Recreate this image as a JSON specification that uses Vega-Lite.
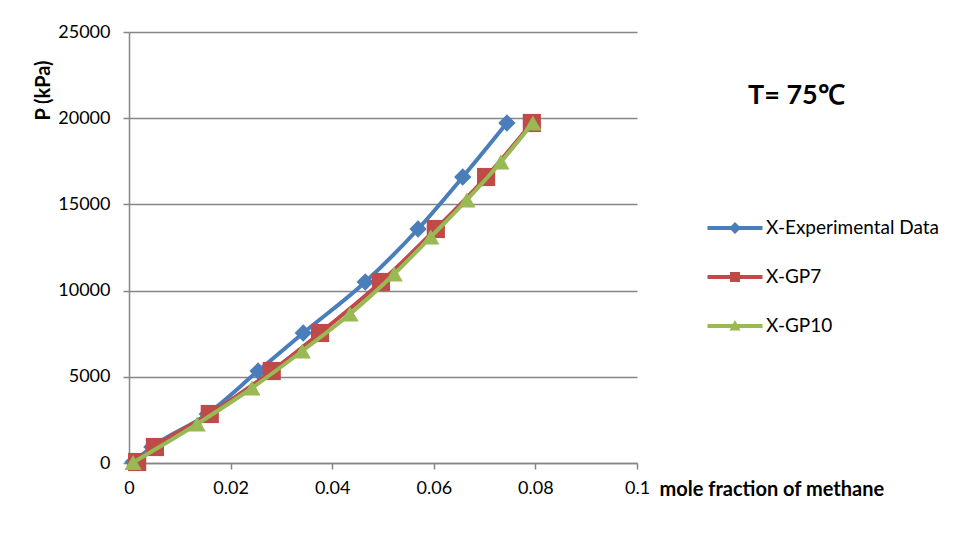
{
  "$schema": "https://vega.github.io/schema/vega-lite/v6.json",
  "width": 508,
  "height": 431,
  "autosize": "none",
  "padding": {"left": 129, "top": 32, "right": 319, "bottom": 76},
  "background": "white",
  "title": {
    "text": "T= 75℃",
    "anchor": "start",
    "frame": "group",
    "dx": 619,
    "dy": 91,
    "font": "Lato",
    "fontSize": 27,
    "fontWeight": "bold",
    "color": "#000000"
  },
  "config": {
    "view": {"stroke": null},
    "font": "Lato"
  },
  "data": {
    "values": [
      {"series": "X-Experimental Data", "x": 0.0008, "p": 58},
      {"series": "X-Experimental Data", "x": 0.0045, "p": 928},
      {"series": "X-Experimental Data", "x": 0.0154, "p": 2842},
      {"series": "X-Experimental Data", "x": 0.0254, "p": 5336},
      {"series": "X-Experimental Data", "x": 0.0343, "p": 7541},
      {"series": "X-Experimental Data", "x": 0.0465, "p": 10499},
      {"series": "X-Experimental Data", "x": 0.0569, "p": 13573},
      {"series": "X-Experimental Data", "x": 0.0657, "p": 16589},
      {"series": "X-Experimental Data", "x": 0.0744, "p": 19722},
      {"series": "X-GP7", "x": 0.0016, "p": 58},
      {"series": "X-GP7", "x": 0.0051, "p": 928},
      {"series": "X-GP7", "x": 0.0159, "p": 2842},
      {"series": "X-GP7", "x": 0.0281, "p": 5336},
      {"series": "X-GP7", "x": 0.0376, "p": 7541},
      {"series": "X-GP7", "x": 0.0496, "p": 10499},
      {"series": "X-GP7", "x": 0.0604, "p": 13573},
      {"series": "X-GP7", "x": 0.0703, "p": 16589},
      {"series": "X-GP7", "x": 0.0793, "p": 19722},
      {"series": "X-GP10", "x": 0.0008, "p": 30},
      {"series": "X-GP10", "x": 0.0134, "p": 2262},
      {"series": "X-GP10", "x": 0.0242, "p": 4350},
      {"series": "X-GP10", "x": 0.0341, "p": 6497},
      {"series": "X-GP10", "x": 0.0435, "p": 8643},
      {"series": "X-GP10", "x": 0.0522, "p": 10963},
      {"series": "X-GP10", "x": 0.0594, "p": 13109},
      {"series": "X-GP10", "x": 0.0665, "p": 15255},
      {"series": "X-GP10", "x": 0.0732, "p": 17459},
      {"series": "X-GP10", "x": 0.0795, "p": 19722}
    ]
  },
  "encoding": {
    "x": {
      "field": "x",
      "type": "quantitative",
      "scale": {"domain": [0, 0.1], "nice": false, "zero": false},
      "axis": {
        "values": [0, 0.02, 0.04, 0.06, 0.08, 0.1],
        "format": "~g",
        "grid": false,
        "domainColor": "#868686",
        "domainWidth": 1.5,
        "tickColor": "#868686",
        "tickWidth": 1.5,
        "tickSize": 6,
        "labelPadding": 10,
        "labelFont": "Lato",
        "labelFontSize": 18,
        "labelColor": "#000000",
        "labelFlush": false,
        "labelOverlap": false,
        "title": "mole fraction of methane",
        "titleFont": "Lato",
        "titleFontSize": 20,
        "titleFontWeight": "bold",
        "titleColor": "#000000",
        "titleAnchor": "start",
        "titleAlign": "left",
        "titleBaseline": "middle",
        "titleX": 530,
        "titleY": 26
      }
    },
    "y": {
      "field": "p",
      "type": "quantitative",
      "scale": {"domain": [0, 25000], "nice": false},
      "axis": {
        "values": [0, 5000, 10000, 15000, 20000, 25000],
        "format": "d",
        "grid": true,
        "gridColor": "#868686",
        "gridWidth": 1.5,
        "domainColor": "#868686",
        "domainWidth": 1.5,
        "tickColor": "#868686",
        "tickWidth": 1.5,
        "tickSize": 6,
        "labelPadding": 13,
        "labelFont": "Lato",
        "labelFontSize": 18,
        "labelColor": "#000000",
        "labelFlush": false,
        "labelOverlap": false,
        "title": "P (kPa)",
        "titleFont": "Lato",
        "titleFontSize": 20,
        "titleFontWeight": "bold",
        "titleColor": "#000000",
        "titleAngle": -90,
        "titleAlign": "center",
        "titleBaseline": "middle",
        "titleX": -86,
        "titleY": 58
      }
    }
  },
  "layer": [
    {
      "transform": [{"filter": "datum.series == 'X-Experimental Data'"}],
      "mark": {
        "type": "line",
        "color": "#4A7EBB",
        "strokeWidth": 4,
        "interpolate": "monotone",
        "clip": false,
        "point": {"shape": "diamond", "size": 300, "filled": true, "color": "#4A7EBB", "opacity": 1}
      }
    },
    {
      "transform": [{"filter": "datum.series == 'X-GP7'"}],
      "mark": {
        "type": "line",
        "color": "#BE4B48",
        "strokeWidth": 4,
        "interpolate": "monotone",
        "clip": false,
        "point": {"shape": "square", "size": 330, "filled": true, "color": "#BE4B48", "opacity": 1}
      }
    },
    {
      "transform": [{"filter": "datum.series == 'X-GP10'"}],
      "mark": {
        "type": "line",
        "color": "#98B954",
        "strokeWidth": 4,
        "interpolate": "monotone",
        "clip": false,
        "point": {"shape": "triangle-up", "size": 300, "filled": true, "color": "#98B954", "opacity": 1}
      }
    },
    {
      "mark": {"type": "point", "filled": true, "opacity": 0, "size": 400},
      "encoding": {
        "color": {
          "field": "series",
          "type": "nominal",
          "scale": {
            "domain": ["X-Experimental Data", "X-GP7", "X-GP10"],
            "range": ["#4A7EBB", "#BE4B48", "#98B954"]
          },
          "legend": {
            "orient": "none",
            "legendX": 596,
            "legendY": 186,
            "title": null,
            "labelFont": "Lato",
            "labelFontSize": 19,
            "labelColor": "#000000",
            "labelOffset": 21,
            "rowPadding": 29,
            "symbolSize": 400,
            "symbolStrokeWidth": 0,
            "symbolOpacity": 1,
            "labelLimit": 300,
            "encode": {"symbols": {"update": {"opacity": {"value": 1}, "fillOpacity": {"value": 1}}}}
          }
        },
        "shape": {
          "field": "series",
          "type": "nominal",
          "scale": {
            "domain": ["X-Experimental Data", "X-GP7", "X-GP10"],
            "range": [
              "M-2.75,-0.2H2.75V0.2H-2.75Z M0,-0.6L0.6,0L0,0.6L-0.6,0Z",
              "M-2.75,-0.2H2.75V0.2H-2.75Z M-0.5,-0.5H0.5V0.5H-0.5Z",
              "M-2.75,-0.2H2.75V0.2H-2.75Z M0,-0.6L0.55,0.45H-0.55Z"
            ]
          },
          "legend": {
            "orient": "none",
            "legendX": 596,
            "legendY": 186,
            "title": null,
            "labelFont": "Lato",
            "labelFontSize": 19,
            "labelColor": "#000000",
            "labelOffset": 21,
            "rowPadding": 29,
            "symbolSize": 400,
            "symbolStrokeWidth": 0,
            "symbolOpacity": 1,
            "labelLimit": 300,
            "encode": {"symbols": {"update": {"opacity": {"value": 1}, "fillOpacity": {"value": 1}}}}
          }
        }
      }
    }
  ]
}
